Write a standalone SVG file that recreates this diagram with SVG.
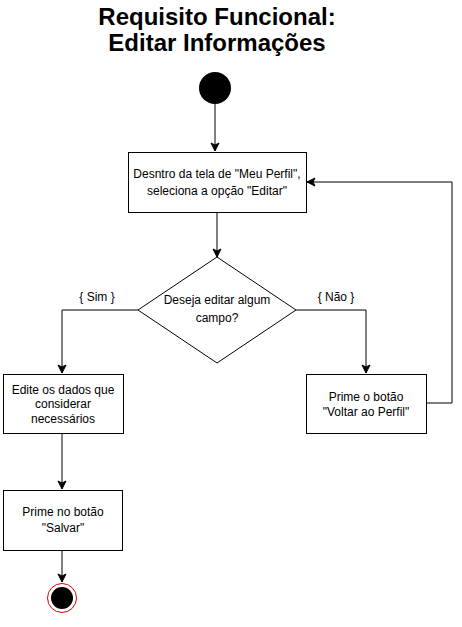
<svg xmlns="http://www.w3.org/2000/svg" width="462" height="627" viewBox="0 0 462 627">
<style>
.box{fill:#fff;stroke:#000;stroke-width:1}
.t{font-family:"Liberation Sans",Arial,sans-serif;font-size:12px;fill:#000;text-anchor:middle}
.title{font-family:"Liberation Sans",Arial,sans-serif;font-size:24px;font-weight:bold;fill:#000;text-anchor:middle}
.edge{fill:none;stroke:#000;stroke-width:1}
</style>
<defs>
<marker id="arr" markerWidth="10" markerHeight="10" refX="9" refY="5" orient="auto" markerUnits="userSpaceOnUse">
<path d="M1,1 L9,5 L1,9 L3,5 z" fill="#000" stroke="#000" stroke-width="1"/>
</marker>
</defs>
<rect width="462" height="627" fill="#fff"/>
<g id="title">
<text class="title" x="217" y="25">Requisito Funcional:</text>
<text class="title" x="217" y="51">Editar Informações</text>
</g>
<g id="connectors">
<path class="edge" d="M215,104 V151" marker-end="url(#arr)"/>
<path class="edge" d="M217,212 V257" marker-end="url(#arr)"/>
<path class="edge" d="M138,310 H62 V373" marker-end="url(#arr)"/>
<path class="edge" d="M296,310 H366 V373" marker-end="url(#arr)"/>
<path class="edge" d="M426,403 H452 V182 H307" marker-end="url(#arr)"/>
<path class="edge" d="M62,433 V489" marker-end="url(#arr)"/>
<path class="edge" d="M62,550 V582" marker-end="url(#arr)"/>
<text class="t" x="97" y="301">{ Sim }</text>
<text class="t" x="336" y="301">{ Não }</text>
</g>
<g id="start"><circle cx="215" cy="88" r="16" fill="#000"/></g>
<g id="n1">
<rect class="box" x="128.5" y="152.5" width="178" height="60"/>
<text class="t" x="217" y="178">Desntro da tela de "Meu Perfil",</text>
<text class="t" x="217" y="195">seleciona a opção "Editar"</text>
</g>
<g id="decision">
<polygon class="box" points="217,257 296,310 217,363 138,310"/>
<text class="t" x="217" y="304">Deseja editar algum</text>
<text class="t" x="217" y="322">campo?</text>
</g>
<g id="n2">
<rect class="box" x="3.5" y="374.5" width="120" height="59"/>
<text class="t" x="63" y="394">Edite os dados que</text>
<text class="t" x="63" y="408">considerar</text>
<text class="t" x="63" y="423">necessários</text>
</g>
<g id="n3">
<rect class="box" x="306.5" y="374.5" width="120" height="59"/>
<text class="t" x="366" y="401">Prime o botão</text>
<text class="t" x="366" y="416">"Voltar ao Perfil"</text>
</g>
<g id="n4">
<rect class="box" x="3.5" y="490.5" width="119" height="60"/>
<text class="t" x="63" y="516">Prime no botão</text>
<text class="t" x="63" y="532">"Salvar"</text>
</g>
<g id="end">
<circle cx="62" cy="598" r="14.5" fill="#fff" stroke="#e00000" stroke-width="1"/>
<circle cx="62" cy="598" r="11" fill="#000"/>
</g>
</svg>
